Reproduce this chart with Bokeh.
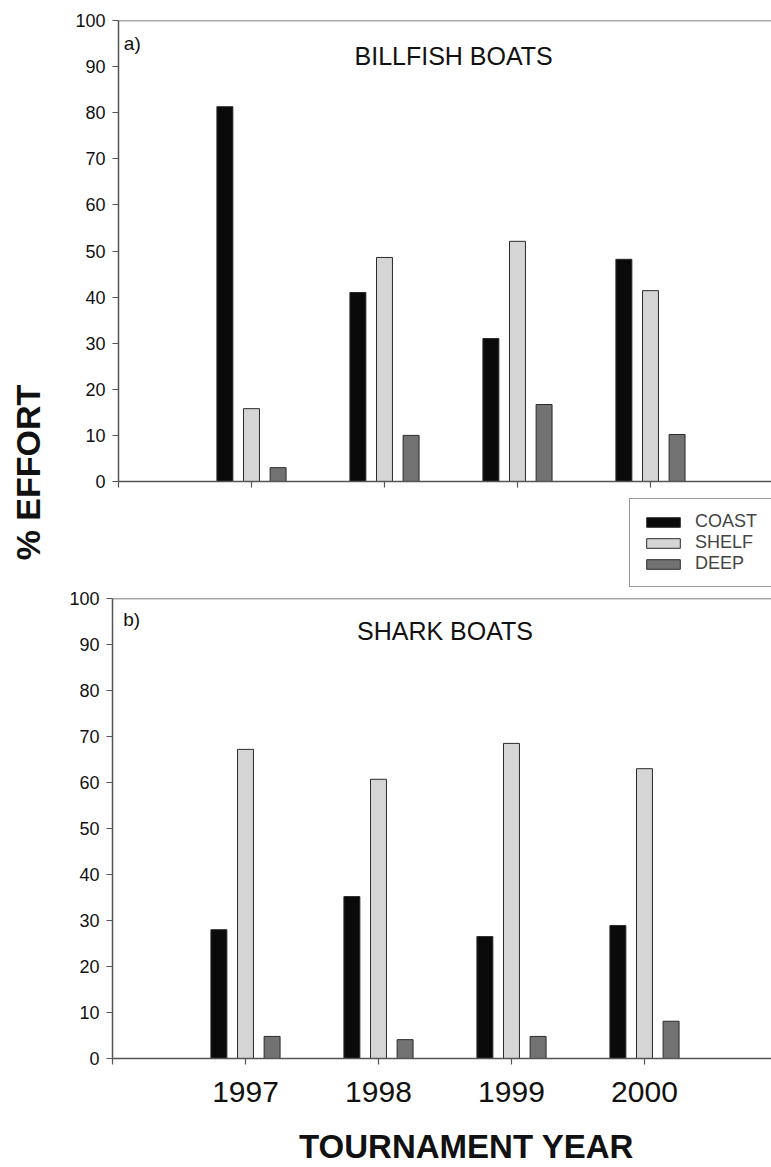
import math
from bokeh.plotting import figure
from bokeh.layouts import column, row
from bokeh.models import (ColumnDataSource, Range1d, FixedTicker, Span, Label,
                          Legend, LegendItem)
from bokeh.transform import dodge
from bokeh.embed import file_html
from bokeh.resources import INLINE

# ---------------- data ----------------
years = ["1997", "1998", "1999", "2000"]
series = ["COAST", "SHELF", "DEEP"]
billfish_coast = [81.3, 41.0, 31.0, 48.2]
billfish_shelf = [15.8, 48.6, 52.1, 41.4]
billfish_deep = [3.0, 10.0, 16.7, 10.2]
shark_coast = [28.0, 35.2, 26.5, 28.9]
shark_shelf = [67.2, 60.7, 68.5, 63.0]
shark_deep = [4.8, 4.1, 4.8, 8.1]
y_ticks = list(range(0, 101, 10))

FONT = "Liberation Sans"
AX = "#555555"
TXT = "#111111"
colors = {"COAST": "#0a0a0a", "SHELF": "#d5d5d5", "DEEP": "#727272"}
offsets = {"COAST": -0.2, "SHELF": 0.0, "DEEP": 0.2}

pos = list(range(1, len(years) + 1))


def blank(width, height, left=0):
    f = figure(width=width, height=height, output_backend="svg",
               toolbar_location=None, x_range=Range1d(0, 1),
               y_range=Range1d(0, 1), x_axis_location=None,
               y_axis_location=None, min_border=0, min_border_left=left)
    f.outline_line_color = None
    f.grid.visible = False
    return f


def make_panel(width, height, left, top, bottom, xmax, coast, shelf, deep,
               title, tag, title_xy, tag_xy, show_labels):
    p = figure(width=width, height=height, output_backend="svg",
               toolbar_location=None, x_range=Range1d(0, xmax),
               y_range=Range1d(0, 100), min_border_left=left,
               min_border_right=0, min_border_top=top,
               min_border_bottom=bottom)
    p.outline_line_color = None
    p.grid.visible = False
    src = ColumnDataSource(dict(x=pos, COAST=coast, SHELF=shelf, DEEP=deep))
    rends = {}
    for s in series:
        rends[s] = p.vbar(x=dodge("x", offsets[s], range=p.x_range), top=s,
                          width=0.12, source=src, fill_color=colors[s],
                          line_color="#2a2a2a", line_width=1)
    for ax in (p.xaxis[0], p.yaxis[0]):
        ax.axis_line_color = AX
        ax.axis_line_width = 1.5
        ax.major_tick_line_color = AX
        ax.major_tick_line_width = 1.2
        ax.major_tick_in = 0
        ax.major_tick_out = 6
        ax.minor_tick_line_color = None
        ax.major_label_text_font = FONT
        ax.major_label_text_color = TXT
    p.yaxis.ticker = FixedTicker(ticks=y_ticks)
    p.yaxis.major_label_text_font_size = "18px"
    p.yaxis.major_label_standoff = 7
    p.xaxis.ticker = FixedTicker(ticks=[0] + pos)
    ov = {0: ""}
    for i, yr in zip(pos, years):
        ov[i] = yr if show_labels else ""
    p.xaxis.major_label_overrides = ov
    p.xaxis.major_label_text_font_size = "30px"
    p.xaxis.major_label_standoff = 17
    p.add_layout(Span(location=100, dimension="width", line_color=AX,
                      line_width=1.5))
    p.add_layout(Label(x=title_xy[0], y=title_xy[1], text=title,
                       text_font=FONT, text_font_size="25px",
                       text_align="center", text_baseline="middle",
                       text_color=TXT))
    p.add_layout(Label(x=tag_xy[0], y=tag_xy[1], text=tag, text_font=FONT,
                       text_font_size="19px", text_align="left",
                       text_baseline="middle", text_color=TXT))
    return p, rends


# ---- top block: y-title strip + billfish panel + legend strip ----
ps_top = blank(50, 590)
ps_top.add_layout(Label(x=27.5, y=118, x_units="screen", y_units="screen",
                        text="% EFFORT", angle=math.pi / 2, text_font=FONT,
                        text_font_size="34px", text_font_style="bold",
                        text_align="center", text_baseline="middle",
                        text_color=TXT))

p1, r1 = make_panel(721, 493, 68, 20, 12, 4.91, billfish_coast,
                    billfish_shelf, billfish_deep, "BILLFISH BOATS", "a)",
                    (2.52, 92.4), (0.04, 95.0), False)

pm = blank(721, 97, left=68)
dummy = {s: pm.vbar(x=[-10], top=[0], width=0.1, fill_color=colors[s],
                    line_color="#2a2a2a", line_width=1) for s in series}
legend = Legend(items=[LegendItem(label=s, renderers=[dummy[s]]) for s in series],
                location=(511, 3), border_line_color="#333333",
                border_line_width=1, background_fill_color="white",
                glyph_width=42, glyph_height=12, label_height=21,
                label_width=75, label_text_font=FONT,
                label_text_font_size="18px", label_standoff=11, padding=12,
                spacing=0, margin=0)
pm.add_layout(legend, "center")

top_block = row(ps_top, column(p1, pm, spacing=0), spacing=0)

# ---- bottom block: spacer strip + shark panel + x-title strip ----
ps_bot = blank(44, 577)
p2, r2 = make_panel(727, 530, 68, 8, 62, 4.955, shark_coast, shark_shelf,
                    shark_deep, "SHARK BOATS", "b)", (2.5, 92.9),
                    (0.08, 95.5), True)
pb = blank(727, 47, left=68)
pb.add_layout(Label(x=354, y=21, x_units="screen", y_units="screen",
                    text="TOURNAMENT YEAR", text_font=FONT,
                    text_font_size="33px", text_font_style="bold",
                    text_align="center", text_baseline="middle",
                    text_color=TXT))

bottom_block = row(ps_bot, column(p2, pb, spacing=0), spacing=0)

layout = column(top_block, bottom_block, spacing=0)
open("out.html", "w").write(file_html(layout, INLINE))
